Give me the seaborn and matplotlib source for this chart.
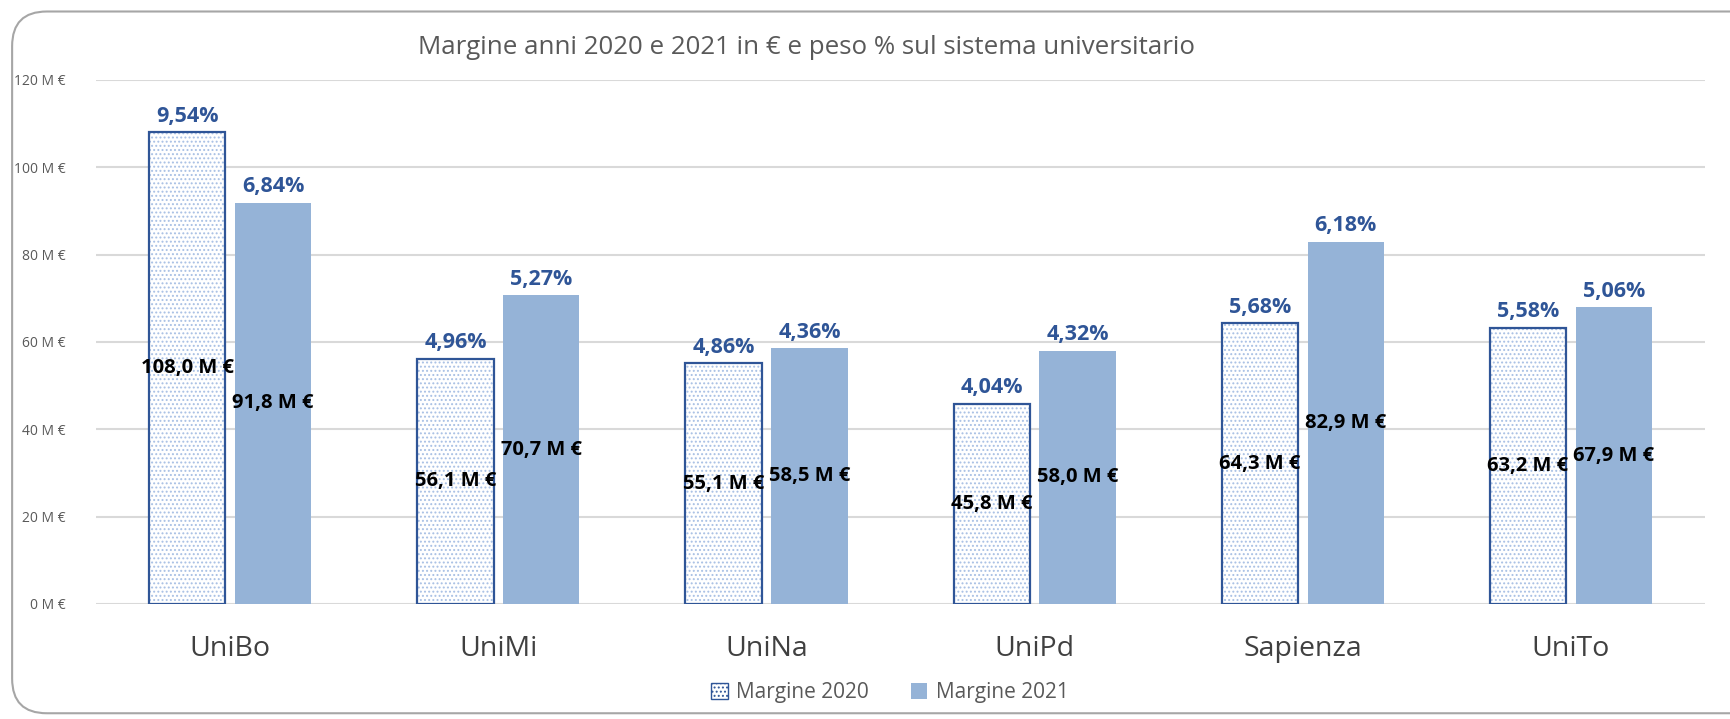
import pandas as pd
import seaborn as sns
import matplotlib.pyplot as plt
from matplotlib.patches import FancyBboxPatch, Patch, Rectangle

# Dati
atenei = ['UniBo', 'UniMi', 'UniNa', 'UniPd', 'Sapienza', 'UniTo']
margine_2020 = [108.0, 56.1, 55.1, 45.8, 64.3, 63.2]
margine_2021 = [91.8, 70.7, 58.5, 58.0, 82.9, 67.9]
peso_2020 = ['9,54%', '4,96%', '4,86%', '4,04%', '5,68%', '5,58%']
peso_2021 = ['6,84%', '5,27%', '4,36%', '4,32%', '6,18%', '5,06%']
serie = ['Margine 2020', 'Margine 2021']
y_ticks = [0, 20, 40, 60, 80, 100, 120]

df = pd.DataFrame({
    'ateneo': atenei * 2,
    'serie': [serie[0]] * len(atenei) + [serie[1]] * len(atenei),
    'valore': margine_2020 + margine_2021,
})

sns.set_style('white')
plt.rcParams['font.family'] = ['Open Sans', 'DejaVu Sans']
plt.rcParams['hatch.linewidth'] = 0.9

blu_scuro = '#2F5597'
blu_chiaro = '#95B3D7'
puntini = '#A8C0E4'
grigio = '#595959'

fig = plt.figure(figsize=(17.31, 7.19), dpi=100)
ax = fig.add_axes([0.0555, 0.16, 0.9295, 0.729])

sns.barplot(data=df, x='ateneo', y='valore', hue='serie', order=atenei,
            hue_order=serie, palette=['white', blu_chiaro], width=0.64,
            gap=0.11, ax=ax, legend=False, saturation=1)

n = len(atenei)
bars = list(ax.patches[:2 * n])
for i, p in enumerate(bars):
    cx = p.get_x() + p.get_width() / 2
    if i < n:
        # puntini chiari + bordo blu scuro sovrapposto
        p.set_facecolor('white')
        p.set_edgecolor(puntini)
        p.set_linewidth(0)
        p.set_hatch('....')
        ax.add_patch(Rectangle((p.get_x(), 0), p.get_width(), p.get_height(),
                               fill=False, edgecolor=blu_scuro, linewidth=1.6, zorder=p.get_zorder() + 0.1))
        val, pct = margine_2020[i], peso_2020[i]
    else:
        p.set_edgecolor('none')
        val, pct = margine_2021[i - n], peso_2021[i - n]
    ax.annotate(pct, (cx, p.get_height()), xytext=(0, 4), textcoords='offset points',
                ha='center', va='bottom', fontsize=15.5, fontweight='bold', color=blu_scuro)
    ax.text(cx, p.get_height() / 2, f"{val:.1f}".replace('.', ',') + ' M €',
            ha='center', va='center', fontsize=14.5, fontweight='bold', color='black', zorder=5)

ax.set_ylim(0, 120)
ax.set_xlim(-0.5, n - 0.5)
ax.set_yticks(y_ticks)
ax.set_yticklabels([f'{v} M €' for v in y_ticks], fontsize=10, color=grigio)
ax.tick_params(axis='y', length=0, pad=22)
ax.tick_params(axis='x', length=0, pad=22, labelsize=20.5, labelcolor='#404040')
ax.set_xlabel('')
ax.set_ylabel('')
ax.yaxis.grid(True, color='#D9D9D9', linewidth=1.5)
ax.set_axisbelow(True)
sns.despine(ax=ax, left=True, bottom=True)

fig.text(0.466, 0.934, 'Margine anni 2020 e 2021 in € e peso % sul sistema universitario',
         ha='center', va='center', fontsize=18.6, color=grigio)

handles = [Patch(facecolor='white', edgecolor=blu_scuro, hatch='....', label=serie[0]),
           Patch(facecolor=blu_chiaro, edgecolor='none', label=serie[1])]
fig.legend(handles=handles, loc='center', bbox_to_anchor=(0.514, 0.037), ncol=2,
           frameon=False, fontsize=15, labelcolor=grigio, handlelength=0.8,
           handleheight=0.8, handletextpad=0.4, columnspacing=2.0)

cornice = FancyBboxPatch((0.007, 0.008), 1.1, 0.976, boxstyle='round,pad=0,rounding_size=0.02',
                         transform=fig.transFigure, facecolor='none', edgecolor='#A6A6A6',
                         linewidth=1.5, mutation_aspect=17.31 / 7.19, zorder=-1)
fig.patches.append(cornice)

fig.savefig('out.png', dpi=100)
